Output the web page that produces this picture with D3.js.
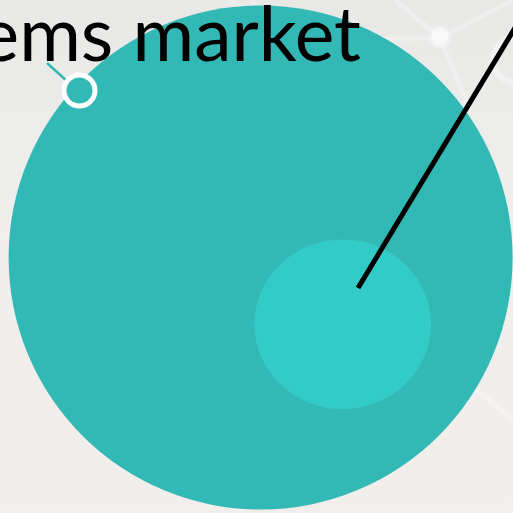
<!DOCTYPE html>
<html lang="en">
<head>
    <meta charset="UTF-8">
    <title>Bubble</title>
    <script src="https://d3js.org/d3.v7.min.js"></script>
    <style>
        body { margin: 0; overflow: hidden; }
        svg { display: block; }
    </style>
</head>
<body>
    <div id="chart-container"></div>
    <script>
        // data
        const bubbleNames = ["market", "segment"];
        const bubbleValues = [100, 11.8];      // area-ish size
        const bubbleX = [50.8, 66.8];          // position in 0-100 units
        const bubbleY = [50.2, 63.2];
        const bubbleColors = ["#33b9b5", "#33cbc8"];
        const titleText = "ems market";

        const width = 513, height = 513;

        const svg = d3.select("#chart-container")
            .append("svg")
            .attr("width", width)
            .attr("height", height);

        const x = d3.scaleLinear().domain([0, 100]).range([0, width]);
        const y = d3.scaleLinear().domain([0, 100]).range([0, height]);
        const r = d3.scaleSqrt().domain([0, 100]).range([0, 252]);

        // background
        const defs = svg.append("defs");
        const grad = defs.append("linearGradient")
            .attr("id", "bg")
            .attr("x1", 0).attr("y1", 0).attr("x2", 0).attr("y2", 1);
        grad.append("stop").attr("offset", "0%").attr("stop-color", "#e8e8e7");
        grad.append("stop").attr("offset", "45%").attr("stop-color", "#f0efed");
        grad.append("stop").attr("offset", "100%").attr("stop-color", "#f1eeeb");
        svg.append("rect")
            .attr("width", width)
            .attr("height", height)
            .attr("fill", "url(#bg)");
        defs.append("filter").attr("id", "soft")
            .append("feGaussianBlur").attr("stdDeviation", 1.5);

        // faint network decoration
        const net = svg.append("g")
            .attr("stroke", "#ffffff")
            .attr("stroke-opacity", 0.45)
            .attr("fill", "none")
            .attr("filter", "url(#soft)");
        [[250, 0, 300, 40], [300, 40, 440, 38], [440, 38, 513, 0], [395, 0, 440, 38],
         [440, 38, 470, 110], [440, 360, 513, 420], [230, 0, 245, 10]].forEach(function(l) {
            net.append("line")
                .attr("x1", l[0]).attr("y1", l[1]).attr("x2", l[2]).attr("y2", l[3])
                .attr("stroke-width", 3);
        });
        net.append("circle").attr("cx", 440).attr("cy", 37).attr("r", 10)
            .attr("fill", "#f8f8f8").attr("stroke", "none");
        net.append("circle").attr("cx", 515).attr("cy", 60).attr("r", 22)
            .attr("stroke-width", 5);

        // bubbles
        svg.selectAll(".bubble")
            .data(bubbleNames)
            .enter()
            .append("ellipse")
            .attr("class", "bubble")
            .attr("cx", (d, i) => x(bubbleX[i]))
            .attr("cy", (d, i) => y(bubbleY[i]))
            .attr("rx", (d, i) => r(bubbleValues[i]) * (i === 1 ? 1.02 : 1))
            .attr("ry", (d, i) => r(bubbleValues[i]) * (i === 1 ? 0.98 : 1))
            .style("fill", (d, i) => bubbleColors[i]);

        // small marker ring
        svg.append("line")
            .attr("x1", 47).attr("y1", 63).attr("x2", 68).attr("y2", 82)
            .attr("stroke", "#33b9b5").attr("stroke-width", 2.5);
        svg.append("circle")
            .attr("cx", 79.5).attr("cy", 90.5).attr("r", 15.5)
            .attr("fill", "#33b9b5")
            .attr("stroke", "#ffffff")
            .attr("stroke-width", 5);

        // leader line
        svg.append("line")
            .attr("x1", 358).attr("y1", 288)
            .attr("x2", 533).attr("y2", -2)
            .attr("stroke", "#000")
            .attr("stroke-width", 5);

        // title
        svg.append("text")
            .attr("x", 361)
            .attr("y", 61)
            .attr("text-anchor", "end")
            .style("font-family", "Lato, 'Open Sans', sans-serif")
            .style("font-size", "75px")
            .style("fill", "#000")
            .text(titleText);
    </script>
</body>
</html>
